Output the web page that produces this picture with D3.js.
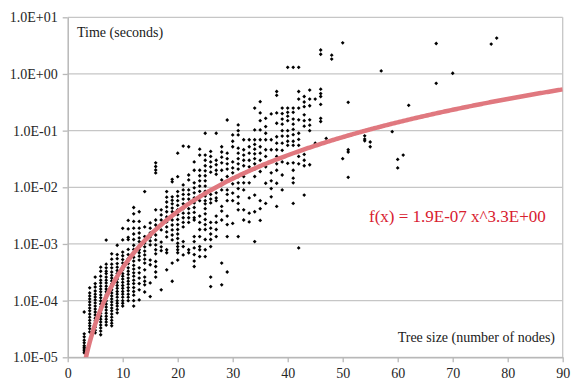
<!DOCTYPE html>
<html>
<head>
<meta charset="utf-8">
<script src="https://cdn.jsdelivr.net/npm/d3@7"></script>
<style>
  html, body { margin: 0; padding: 0; background: #fff; }
  svg { display: block; }
</style>
</head>
<body>
<svg id="chart" width="571" height="380"></svg>
<script>
// ---- data ----
const treeSizes = [3,4,5,6,7,8,9,10,11,12,13,14,15,16,17,18,19,20,21,22,23,24,25,26,27,28,29,30,31,32,33,34,35,36,37,38,39,40,41,42,43,44,45,46,47,48,50,51,54,55,57,59,60,61,62,67,70,77,78];
const timesBySize = [
  [1.2e-5,1.3e-5,1.4e-5,1.5e-5,1.6e-5,1.8e-5,2.0e-5,2.3e-5,2.6e-5,6.3e-5],
  [2.8e-5,3.2e-5,3.6e-5,4.0e-5,4.5e-5,5.1e-5,5.8e-5,6.6e-5,7.4e-5,8.4e-5,9.5e-5,1.07e-4,1.21e-4,1.37e-4,1.68e-4],
  [2.7e-5,3.0e-5,3.4e-5,3.9e-5,4.4e-5,4.9e-5,5.6e-5,6.3e-5,7.1e-5,8.0e-5,9.1e-5,1.03e-4,1.16e-4,1.3e-4,1.48e-4,1.74e-4,2.0e-4,2.6e-4],
  [2.5e-5,2.9e-5,3.3e-5,3.7e-5,4.2e-5,4.7e-5,5.3e-5,6.0e-5,6.8e-5,7.7e-5,8.7e-5,9.9e-5,1.12e-4,1.26e-4,1.43e-4,1.6e-4,1.8e-4,2.05e-4,2.3e-4,2.7e-4,3.3e-4,3.9e-4],
  [3.7e-5,4.2e-5,4.7e-5,5.3e-5,6.0e-5,6.8e-5,7.7e-5,8.7e-5,9.9e-5,1.12e-4,1.26e-4,1.43e-4,1.6e-4,1.8e-4,2.05e-4,2.3e-4,2.6e-4,3.0e-4,3.3e-4,3.8e-4,4.4e-4,1.17e-3],
  [3.6e-5,4.0e-5,4.5e-5,5.1e-5,5.8e-5,6.6e-5,7.4e-5,8.4e-5,9.5e-5,1.07e-4,1.21e-4,1.37e-4,1.55e-4,1.75e-4,1.97e-4,2.23e-4,2.5e-4,2.8e-4,3.2e-4,3.8e-4,4.4e-4,5.4e-4,6.7e-4],
  [6.1e-5,7.0e-5,8.0e-5,9.0e-5,1.0e-4,1.15e-4,1.3e-4,1.45e-4,1.65e-4,1.85e-4,2.1e-4,2.4e-4,2.7e-4,3.0e-4,3.4e-4,3.9e-4,4.5e-4,5.5e-4,6.5e-4,9.5e-4],
  [8.0e-5,9.0e-5,1.0e-4,1.15e-4,1.3e-4,1.45e-4,1.65e-4,1.85e-4,2.1e-4,2.4e-4,2.7e-4,3.0e-4,3.5e-4,4.0e-4,4.6e-4,5.3e-4,6.2e-4,7.2e-4,1.18e-3,1.89e-3],
  [1.0e-4,1.15e-4,1.3e-4,1.5e-4,1.7e-4,1.95e-4,2.2e-4,2.5e-4,2.9e-4,3.3e-4,3.8e-4,4.5e-4,5.5e-4,6.5e-4,8.0e-4,1.2e-3,1.31e-3,1.84e-3,2.6e-3],
  [8.0e-5,1.0e-4,1.25e-4,1.45e-4,1.7e-4,2.0e-4,2.3e-4,2.7e-4,3.1e-4,3.6e-4,4.2e-4,5.0e-4,5.8e-4,6.8e-4,8.0e-4,9.5e-4,1.2e-3,1.5e-3,1.9e-3,2.5e-3,3.4e-3,4.4e-3],
  [1.03e-4,1.55e-4,2.0e-4,2.5e-4,3.1e-4,3.8e-4,5.2e-4,6.1e-4,7.0e-4,7.9e-4,9.0e-4,1.1e-3,1.28e-3,1.56e-3,1.9e-3,2.5e-3,3.7e-3],
  [1.42e-4,1.9e-4,2.2e-4,2.6e-4,3.5e-4,4.6e-4,5.4e-4,6.4e-4,7.5e-4,8.9e-4,1.04e-3,1.35e-3,2.0e-3,8.4e-3],
  [1.18e-4,2.05e-4,4.3e-4,5.2e-4,9.6e-4,1.13e-3,1.33e-3,1.56e-3,1.9e-3,2.35e-3],
  [2.6e-4,3.2e-4,4.0e-4,4.9e-4,6.7e-4,7.9e-4,9.6e-4,1.18e-3,1.44e-3,1.77e-3,2.16e-3,2.65e-3,4.0e-3,1.79e-2,2.02e-2,2.33e-2,2.7e-2],
  [1.55e-4,7.6e-4,8.9e-4,1.08e-3,1.77e-3,2.16e-3,2.65e-3,3.25e-3,4.0e-3],
  [3.5e-4,7.0e-4,7.9e-4,1.33e-3,1.63e-3,2.0e-3,2.45e-3,3.0e-3,3.7e-3,4.5e-3,5.5e-3,6.7e-3,8.4e-3],
  [2.2e-4,4.6e-4,1.18e-3,1.44e-3,1.77e-3,2.16e-3,2.65e-3,3.1e-3,3.7e-3,4.3e-3,5.1e-3,5.9e-3,6.8e-3,1.25e-2,1.38e-2],
  [5.2e-4,7.0e-4,7.9e-4,9.0e-4,1.03e-3,1.25e-3,1.5e-3,1.8e-3,2.2e-3,2.7e-3,3.3e-3,4.0e-3,4.8e-3,5.8e-3,7.0e-3,8.4e-3,1.54e-2,4.0e-2],
  [6.4e-4,9.0e-4,1.1e-3,2.0e-3,2.4e-3,2.9e-3,3.5e-3,4.2e-3,5.1e-3,6.2e-3,7.5e-3,9.0e-3,1.1e-2,5.35e-2],
  [7.0e-4,7.9e-4,2.4e-3,2.9e-3,3.5e-3,4.2e-3,5.1e-3,6.2e-3,7.5e-3,9.0e-3,1.35e-2,1.65e-2,5.2e-2],
  [4.0e-4,5.0e-4,6.5e-4,8.5e-4,1.1e-3,1.35e-3,2.65e-3,2.9e-3,3.6e-3,4.4e-3,5.3e-3,6.5e-3,8.0e-3,9.8e-3,1.2e-2,2.0e-2,2.8e-2],
  [6.0e-4,7.9e-4,9.0e-4,1.35e-3,1.8e-3,2.4e-3,3.1e-3,5.8e-3,7.0e-3,8.5e-3,1.05e-2,1.3e-2,1.6e-2,2.0e-2,3.7e-2,4.7e-2],
  [6.0e-4,7.9e-4,1.2e-3,1.8e-3,2.2e-3,2.7e-3,3.4e-3,4.2e-3,5.1e-3,5.8e-3,7.0e-3,8.5e-3,1.05e-2,1.3e-2,1.6e-2,1.95e-2,2.4e-2,3.0e-2,3.7e-2,9.0e-2],
  [1.77e-4,2.6e-4,9.0e-4,1.2e-3,1.5e-3,1.9e-3,2.4e-3,5.3e-3,6.2e-3,7.5e-3,9.0e-3,1.85e-2,2.3e-2,2.8e-2,3.5e-2,4.3e-2],
  [1.35e-3,1.8e-3,2.4e-3,3.1e-3,5.8e-3,6.5e-3,8.0e-3,1.0e-2,1.7e-2,2.0e-2,2.5e-2,3.0e-2,9.0e-2],
  [1.9e-4,4.6e-4,2.65e-3,3.8e-3,4.6e-3,9.0e-3,1.1e-2,1.35e-2,2.0e-2,2.7e-2,3.4e-2,4.2e-2,5.2e-2],
  [3.2e-4,1.35e-3,2.2e-3,3.1e-3,5.8e-3,7.5e-3,9.0e-3,1.55e-2,2.1e-2,2.6e-2,3.2e-2,4.0e-2,1.54e-1],
  [2.3e-3,5.8e-3,7.9e-3,1.15e-2,1.45e-2,1.8e-2,2.2e-2,2.8e-2,5.2e-2,6.5e-2,8.4e-2],
  [1.35e-3,4.0e-3,5.2e-3,6.8e-3,9.5e-3,1.2e-2,1.55e-2,2.1e-2,2.6e-2,3.2e-2,4.0e-2,4.9e-2,8.4e-2,1.0e-1,1.26e-1],
  [2.65e-3,4.0e-3,9.0e-3,1.2e-2,1.55e-2,2.4e-2,3.0e-2,3.7e-2,4.6e-2,6.9e-2],
  [2.45e-3,3.5e-3,6.5e-3,1.2e-2,2.3e-2,3.0e-2,4.0e-2,5.2e-2,6.9e-2],
  [1.1e-3,3.7e-3,7.3e-3,1.55e-2,2.1e-2,2.6e-2,3.2e-2,3.9e-2,4.7e-2,5.7e-2,6.9e-2,1.03e-1,2.5e-1],
  [2.6e-3,4.2e-3,5.8e-3,1.9e-2,3.0e-2,4.0e-2,5.2e-2,6.9e-2,1.03e-1,1.5e-1,2.05e-1,3.25e-1],
  [5.2e-3,1.18e-2,2.3e-2,3.5e-2,4.6e-2,6.9e-2,9.0e-2,1.18e-1,1.65e-1],
  [6.8e-3,9.5e-3,1.3e-2,1.8e-2,4.6e-2,6.9e-2,1.97e-1],
  [4.6e-3,1.18e-2,2.0e-2,2.6e-2,3.5e-2,4.6e-2,6.0e-2,7.8e-2,1.35e-1,2.05e-1,4.2e-1,4.9e-1],
  [9.0e-3,1.65e-2,2.8e-2,4.5e-2,6.0e-2,8.0e-2,1.0e-1,1.3e-1,1.6e-1,2.0e-1,2.5e-1],
  [2.65e-2,5.5e-2,6.5e-2,8.0e-2,1.0e-1,1.5e-1,1.8e-1,2.1e-1,2.5e-1,1.31],
  [5.2e-3,1.2e-2,1.45e-2,2.0e-2,2.7e-2,5.5e-2,6.5e-2,8.5e-2,1.05e-1,1.3e-1,1.6e-1,2.1e-1,2.5e-1,1.31],
  [8.5e-4,2.6e-2,3.5e-2,5.5e-2,7.0e-2,9.0e-2,1.55e-1,2.5e-1,3.6e-1,4.9e-1,1.31],
  [7.3e-3,2.4e-2,3.0e-2,3.8e-2,1.2e-1,1.5e-1,1.9e-1,2.65e-1,3.2e-1,4.0e-1],
  [2.5e-2,1.0e-1,1.25e-1,1.55e-1,2.75e-1,3.6e-1,5.2e-1],
  [6.0e-2,3.6e-1],
  [1.45e-1,1.65e-1,2.9e-1,4.0e-1,4.5e-1,5.4e-1,2.23,2.65],
  [7.3e-2],
  [1.83,2.15],
  [3.2e-2,3.55],
  [1.5e-2,4.2e-2,4.6e-2,3.16e-1],
  [6.6e-2,7.1e-2,8.1e-2],
  [5.2e-2,6.3e-2],
  [1.13],
  [9.6e-2],
  [2.2e-2,3.1e-2],
  [3.7e-2],
  [2.8e-1],
  [6.85e-1,3.45],
  [1.03],
  [3.37],
  [4.3]
];
const xTicks = [0,10,20,30,40,50,60,70,80,90];
const yTicks = [1e-5,1e-4,1e-3,1e-2,1e-1,1,10];
const yTickLabels = ["1.0E-05","1.0E-04","1.0E-03","1.0E-02","1.0E-01","1.0E+00","1.0E+01"];
const fitCoef = 1.9e-7;
const fitExp = 3.3;
const fitLabel = "f(x) = 1.9E-07 x^3.3E+00";
const yTitle = "Time (seconds)";
const xTitle = "Tree size (number of nodes)";

// ---- layout ----
const FONT = "Liberation Serif";
const L = 67.7, R = 562.7, T = 17.3, B = 357.3;
const svg = d3.select("#chart");
const x = d3.scaleLinear().domain([0, 90]).range([L, R]);
const y = d3.scaleLog().domain([1e-5, 10]).range([B, T]);

const points = [];
treeSizes.forEach((s, i) => timesBySize[i].forEach(t => points.push({s, t})));

// gridlines
svg.append("g").selectAll("line").data(yTicks).join("line")
  .attr("x1", L).attr("x2", R)
  .attr("y1", d => y(d)).attr("y2", d => y(d))
  .attr("stroke", "#c6c6c6").attr("stroke-width", 1.3);

// right border
svg.append("line").attr("x1", R).attr("x2", R).attr("y1", T).attr("y2", B)
  .attr("stroke", "#c6c6c6").attr("stroke-width", 1.3);

// axes
const yAxis = d3.axisLeft(y).tickValues(yTicks)
  .tickFormat((d, i) => yTickLabels[i]).tickSize(5).tickSizeOuter(0).tickPadding(5);
const gy = svg.append("g").attr("transform", `translate(${L},0)`).call(yAxis);
const xAxis = d3.axisBottom(x).tickValues(xTicks).tickSize(5).tickSizeOuter(0).tickPadding(6);
const gx = svg.append("g").attr("transform", `translate(0,${B})`).call(xAxis);
[gx, gy].forEach(g => {
  g.attr("font-family", FONT).attr("font-size", 14);
  g.select(".domain").attr("stroke", "#b8b8b8").attr("stroke-width", 1.5);
  g.selectAll(".tick line").attr("stroke", "#b8b8b8").attr("stroke-width", 1.3);
  g.selectAll(".tick text").attr("fill", "#262626")
    .attr("font-family", FONT).attr("font-size", 14);
});

// points
svg.append("clipPath").attr("id", "plotclip")
  .append("rect").attr("x", L).attr("y", T).attr("width", R - L).attr("height", B - T);
svg.append("g").selectAll("path").data(points).join("path")
  .attr("transform", d => `translate(${x(d.s)},${y(d.t)})`)
  .attr("d", "M0,-1.9L1.9,0L0,1.9L-1.9,0Z")
  .attr("fill", "#000");

// fit curve
const fitXs = d3.range(3.0, 90.01, 0.25);
const fitLine = d3.line().x(d => x(d)).y(d => y(fitCoef * Math.pow(d, fitExp)));
svg.append("path").datum(fitXs)
  .attr("clip-path", "url(#plotclip)")
  .attr("d", fitLine)
  .attr("fill", "none").attr("stroke", "#e0787f").attr("stroke-width", 4.5);

// texts
svg.append("text").attr("x", 77).attr("y", 37).text(yTitle)
  .attr("font-family", FONT).attr("font-size", 14).attr("fill", "#1a1a1a");
svg.append("text").attr("x", 555).attr("y", 341.5).attr("text-anchor", "end").text(xTitle)
  .attr("font-family", FONT).attr("font-size", 14).attr("fill", "#1a1a1a");
svg.append("text").attr("x", 369).attr("y", 222).text(fitLabel)
  .attr("font-family", FONT).attr("font-size", 17).attr("fill", "#d8202f");
</script>
</body>
</html>
